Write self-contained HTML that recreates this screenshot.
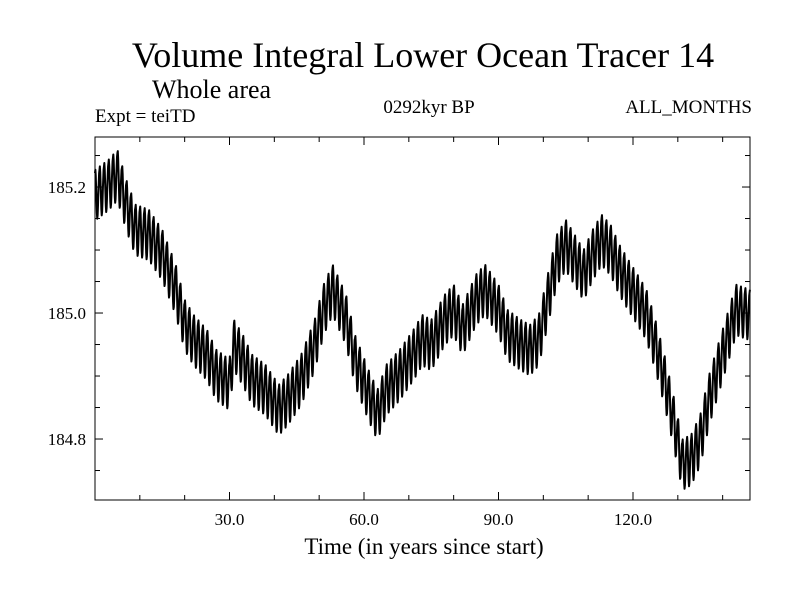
<!DOCTYPE html>
<html><head><meta charset="utf-8"><style>
body{margin:0;background:#fff}
text{font-family:"Liberation Serif",serif;fill:#000}
</style></head><body>
<svg id="chart" width="800" height="600">
<text x="423" y="67" font-size="36" text-anchor="middle">Volume Integral Lower Ocean Tracer 14</text>
<text x="152" y="98" font-size="26">Whole area</text>
<text x="95" y="122" font-size="19">Expt = teiTD</text>
<text x="429" y="113" font-size="19" text-anchor="middle">0292kyr BP</text>
<text x="752" y="113" font-size="19" text-anchor="end">ALL_MONTHS</text>
<text x="424" y="554" font-size="23" text-anchor="middle">Time (in years since start)</text>
<rect x="95" y="137" width="655" height="363" fill="none" stroke="#000" stroke-width="1"/>
<g id="ticks"></g>
<path id="series" fill="none" stroke="#000" stroke-width="2" stroke-linejoin="round"/>
</svg>
<script>
const keyYears=[0,3,5,7,9,12,15,18,20,22,25,27,30,31,33,35,38,41,43,46,49,51,53,56,58,61,63,65,68,71,73,75,78,80,82,85,87,90,92,95,97,99,101,103,105,107,109,111,113,115,117,119,121,123,125,127,129,131,133,135,137,139,141,143,146];
const keyValues=[185.187,185.203,185.219,185.171,185.132,185.124,185.092,185.037,184.981,184.957,184.933,184.902,184.886,184.949,184.925,184.894,184.878,184.846,184.862,184.894,184.949,185.005,185.037,184.989,184.925,184.870,184.838,184.878,184.902,184.933,184.957,184.949,184.989,185.005,184.973,185.021,185.037,185.005,184.965,184.949,184.941,184.957,185.021,185.084,185.108,185.084,185.060,185.092,185.116,185.100,185.068,185.044,185.021,184.997,184.949,184.894,184.830,184.759,184.767,184.798,184.862,184.910,184.957,185.005,184.997];
const seasonal=[0.035,0.04,0.03,0.01,-0.01,-0.03,-0.04,-0.035,-0.02,0,0.015,0.03];
const xTicks=[30,60,90,120];
const xTickLabels=["30.0","60.0","90.0","120.0"];
const yTicks=[184.8,185.0,185.2];
const yTickLabels=["184.8","185.0","185.2"];
const X0=95,X1=750,Y0=137,Y1=500,xMin=0,xMax=146.1,yMin=184.7032,yMax=185.2794;
const sx=t=>X0+(t-xMin)/(xMax-xMin)*(X1-X0);
const sy=v=>Y1-(v-yMin)/(yMax-yMin)*(Y1-Y0);
const NS="http://www.w3.org/2000/svg";
const tg=document.getElementById('ticks');
function line(x1,y1,x2,y2,name){const l=document.createElementNS(NS,'line');l.setAttribute('x1',x1);l.setAttribute('y1',y1);l.setAttribute('x2',x2);l.setAttribute('y2',y2);l.setAttribute('stroke','#000');


tg.appendChild(l);}
function txt(x,y,s,anchor,name){const t=document.createElementNS(NS,'text');t.setAttribute('x',x);t.setAttribute('y',y);t.setAttribute('font-size','17');t.setAttribute('text-anchor',anchor);t.textContent=s;


tg.appendChild(t);}
for(let t=10;t<xMax;t+=10){const x=sx(t);const major=t%30===0;const len=major?8:5;line(x,Y1,x,Y1-len,'x-tick');line(x,Y0,x,Y0+len,'x-tick-top');}
xTicks.forEach((t,i)=>txt(sx(t),525,xTickLabels[i],'middle','x-tick-label'));
for(let v=184.75;v<=185.27;v+=0.05){const y=sy(v);const major=Math.abs(Math.round(v*10)-v*10)<0.01&&Math.round(v*10)%2===0;const len=major?8:5;line(X0,y,X0+len,y,'y-tick');line(X1,y,X1-len,y,'y-tick-right');}
yTicks.forEach((v,i)=>txt(86,sy(v)+6,yTickLabels[i],'end','y-tick-label'));
function center(t){for(let i=0;i<keyYears.length-1;i++){if(t<=keyYears[i+1]){const f=(t-keyYears[i])/(keyYears[i+1]-keyYears[i]);return keyValues[i]+f*(keyValues[i+1]-keyValues[i]);}}return keyValues[keyValues.length-1];}
let d='';
const n=Math.floor(xMax*12);
for(let m=0;m<=n;m++){const t=m/12;const v=center(t)+seasonal[m%12];d+=(m?'L':'M')+sx(t).toFixed(2)+','+sy(v).toFixed(2);}
document.getElementById('series').setAttribute('d',d);
</script>
</body></html>
